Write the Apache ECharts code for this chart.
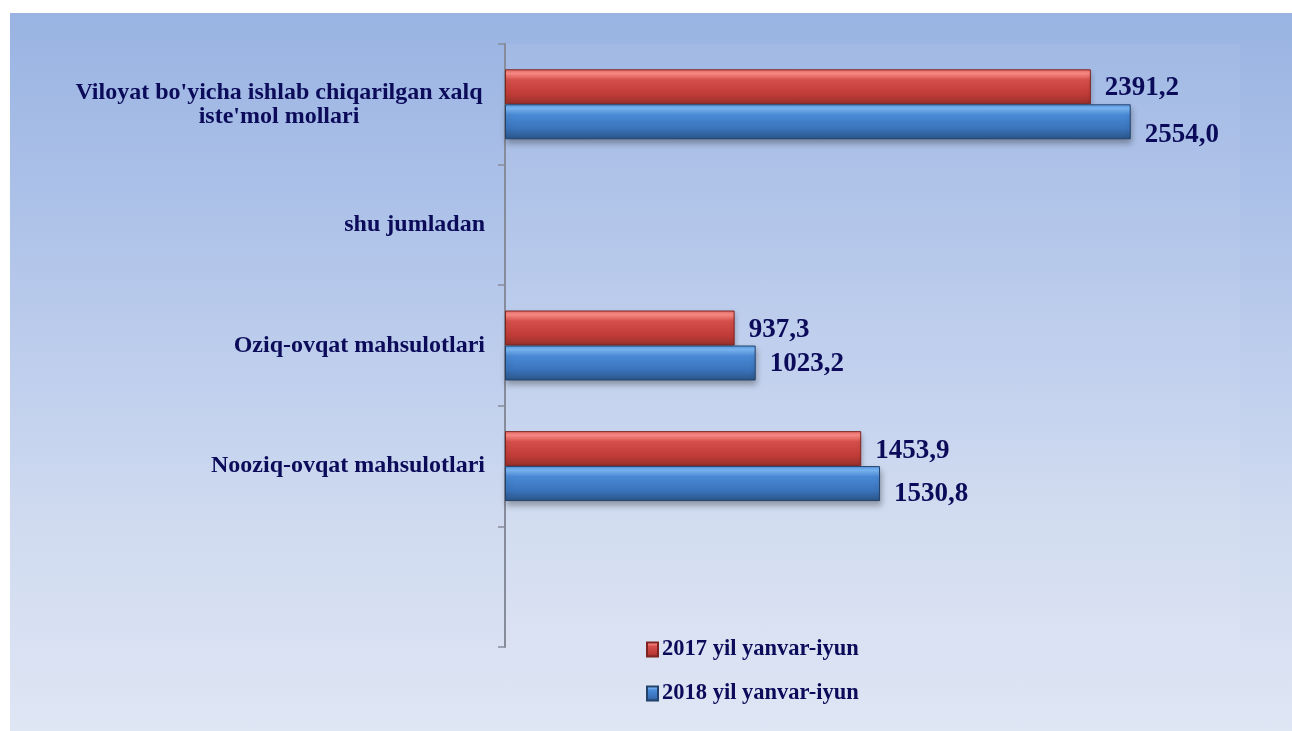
<!DOCTYPE html>
<html>
<head>
<meta charset="utf-8">
<script src="https://cdn.jsdelivr.net/npm/echarts@6/dist/echarts.min.js"></script>
<style>
  html, body { margin: 0; padding: 0; background: #ffffff; }
  #bg { position: absolute; left: 10px; top: 13px; width: 1282px; height: 718px;
        background: linear-gradient(to bottom, #99b3e2 0%, #b3c6ea 35%, #cfdaf0 70%, #dfe6f4 100%); }
  #chart { position: absolute; left: 0; top: 0; width: 1292px; height: 731px; }
</style>
</head>
<body>
<div id="bg"></div>
<div id="chart"></div>
<script>
// ---- data ----
const categories = [
  "Viloyat bo'yicha ishlab chiqarilgan xalq\niste'mol mollari",
  "shu jumladan",
  "Oziq-ovqat mahsulotlari",
  "Nooziq-ovqat mahsulotlari",
  ""
];
const seriesNames = ["2017 yil yanvar-iyun", "2018 yil yanvar-iyun"];
const values2017 = [2391.2, null, 937.3, 1453.9, null];
const values2018 = [2554.0, null, 1023.2, 1530.8, null];

// ---- styling ----
const FONT = "'Liberation Serif', 'Times New Roman', serif";
const TEXT = '#0b0b5a';
const fmt = v => v.toFixed(1).replace('.', ',');

const redFill = new echarts.graphic.LinearGradient(0, 0, 0, 1, [
  { offset: 0, color: '#e86a66' },
  { offset: 0.12, color: '#ff8d88' },
  { offset: 0.3, color: '#d5504b' },
  { offset: 0.7, color: '#c13c38' },
  { offset: 1, color: '#98302c' }
]);
const blueFill = new echarts.graphic.LinearGradient(0, 0, 0, 1, [
  { offset: 0, color: '#5a9be6' },
  { offset: 0.12, color: '#7cb9f7' },
  { offset: 0.3, color: '#4a8ad6' },
  { offset: 0.7, color: '#3a73bb' },
  { offset: 1, color: '#2b5587' }
]);

// per-item label nudges (style, not data)
const offs2017 = [[0, 1], null, [0, 2], [0, 2], null];
const offs2018 = [[0, 13], null, [0, 1], [0, 10], null];

function build(vals, offs) {
  return vals.map((v, i) => v == null ? null : ({
    value: v,
    label: { offset: offs[i] || [0, 0] }
  }));
}

const chart = echarts.init(document.getElementById('chart'), null, { renderer: 'canvas' });
chart.setOption({
  backgroundColor: 'transparent',
  animation: false,
  grid: {
    left: 505, right: 52, top: 44, bottom: 84,
    show: true, backgroundColor: 'rgba(255,255,255,0.06)', borderWidth: 0
  },
  legend: {
    orient: 'vertical',
    left: 641, top: 633,
    itemWidth: 11, itemHeight: 14, itemGap: 21,
    icon: 'rect',
    textStyle: { fontFamily: FONT, fontWeight: 'bold', fontSize: 22.5, color: TEXT, padding: [0, 0, 0, -1] },
    data: seriesNames
  },
  xAxis: {
    type: 'value', min: 0, max: 3000,
    show: false
  },
  yAxis: {
    type: 'category',
    data: categories,
    inverse: true,
    axisLine: { show: true, lineStyle: { color: '#868c9a', width: 2 } },
    axisTick: { show: true, length: 7, lineStyle: { color: '#868c9a', width: 1.5 }, alignWithLabel: false },
    splitLine: { show: false },
    axisLabel: {
      margin: 20,
      fontFamily: FONT, fontWeight: 'bold', fontSize: 24, color: TEXT,
      formatter: function (v) {
        if (v.indexOf('\n') >= 0) {
          return v.split('\n').map(s => '{c|' + s + '}').join('\n');
        }
        return v;
      },
      rich: {
        c: { width: 412, align: 'center', fontFamily: FONT, fontWeight: 'bold', fontSize: 24, color: TEXT, lineHeight: 24 }
      }
    }
  },
  series: [
    {
      name: seriesNames[0], type: 'bar',
      data: build(values2017, offs2017),
      barGap: '0%', barCategoryGap: '42%',
      itemStyle: { color: redFill, borderColor: '#7e2421', borderWidth: 1,
                   shadowColor: 'rgba(0,0,0,0.25)', shadowBlur: 5, shadowOffsetY: 3, shadowOffsetX: 1 },
      label: { show: true, position: 'right', distance: 14, formatter: p => fmt(p.value),
               fontFamily: FONT, fontWeight: 'bold', fontSize: 27, color: TEXT }
    },
    {
      name: seriesNames[1], type: 'bar',
      data: build(values2018, offs2018),
      barGap: '0%', barCategoryGap: '42%',
      itemStyle: { color: blueFill, borderColor: '#23426b', borderWidth: 1,
                   shadowColor: 'rgba(0,0,0,0.3)', shadowBlur: 6, shadowOffsetY: 4, shadowOffsetX: 1 },
      label: { show: true, position: 'right', distance: 14, formatter: p => fmt(p.value),
               fontFamily: FONT, fontWeight: 'bold', fontSize: 27, color: TEXT }
    }
  ]
});
</script>
</body>
</html>
